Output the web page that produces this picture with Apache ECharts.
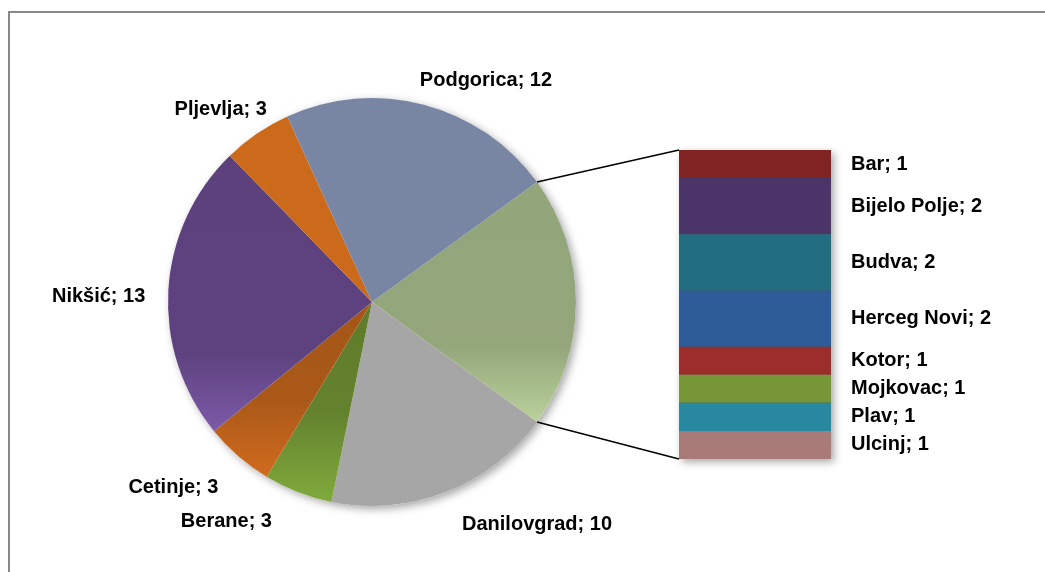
<!DOCTYPE html>
<html>
<head>
<meta charset="utf-8">
<script src="https://cdn.jsdelivr.net/npm/echarts@6/dist/echarts.min.js"></script>
<style>
  html, body { margin: 0; padding: 0; background: #fff; }
  #chart { width: 1045px; height: 572px; }
</style>
</head>
<body>
<div id="chart"></div>
<script>
// Municipalities shown as pie slices (clockwise after the grouped slice)
const pieNames = ['Danilovgrad', 'Berane', 'Cetinje', 'Nikšić', 'Pljevlja', 'Podgorica'];
const pieValues = [10, 3, 3, 13, 3, 12];

// Municipalities grouped into the stacked bar (top to bottom)
const barNames = ['Bar', 'Bijelo Polje', 'Budva', 'Herceg Novi', 'Kotor', 'Mojkovac', 'Plav', 'Ulcinj'];
const barValues = [1, 2, 2, 2, 1, 1, 1, 1];

const otherName = 'Ostali';
const otherTotal = barValues.reduce((s, v) => s + v, 0);
const grandTotal = otherTotal + pieValues.reduce((s, v) => s + v, 0);

// Layout and styling
const FONT = '"Liberation Sans", Arial, sans-serif';
const PIE_CENTER = [372, 302];
const PIE_R = 204;
const START_ANGLE = 36;
const GRID = { left: 679, top: 150, width: 152, height: 309 };

function vgrad(stops) {
  return new echarts.graphic.LinearGradient(0, 0, 0, 1,
    stops.map(([o, c]) => ({ offset: o, color: c })));
}

const sliceStyle = {
  [otherName]: vgrad([[0, '#93a57a'], [0.68, '#94a67a'], [1, '#b9d19c']]),
  'Danilovgrad': '#a6a6a6',
  'Berane': vgrad([[0, '#5f7b2b'], [0.55, '#64822e'], [1, '#80aa3c']]),
  'Cetinje': vgrad([[0, '#a55616'], [0.55, '#a95818'], [1, '#d06b1f']]),
  'Nikšić': vgrad([[0, '#5d417d'], [0.72, '#5e427f'], [1, '#7c5aa8']]),
  'Pljevlja': '#cb6a1a',
  'Podgorica': '#7886a4'
};

// Shift of each pie label away from its slice edge
const labelShift = {
  'Danilovgrad': [8, 16],
  'Berane': [-13, 14.5],
  'Cetinje': [-10, 15.5],
  'Nikšić': [-11.5, 3],
  'Pljevlja': [5, -12],
  'Podgorica': [-2, -12]
};

const barColors = ['#7f2422', '#4b3467', '#226e80', '#2d5c99', '#9b2e2c', '#779637', '#2888a0', '#a87a78'];

const pieData = [{ name: otherName, value: otherTotal, label: { show: false } }]
  .concat(pieNames.map((n, i) => ({ name: n, value: pieValues[i] })))
  .map(d => Object.assign(d, { itemStyle: { color: sliceStyle[d.name] } }));

const labelFont = { fontFamily: FONT, fontWeight: 'bold', fontSize: 20, color: '#000' };

const series = [
  // soft drop shadow under the whole pie
  {
    type: 'pie', z: 1, silent: true, animation: false,
    center: PIE_CENTER, radius: PIE_R,
    label: { show: false }, labelLine: { show: false },
    data: [{ value: grandTotal }],
    itemStyle: { color: '#fff', shadowBlur: 8, shadowOffsetX: 3, shadowOffsetY: 3, shadowColor: 'rgba(0,0,0,0.35)' }
  },
  {
    type: 'pie', z: 2, animation: false,
    center: PIE_CENTER, radius: PIE_R,
    startAngle: START_ANGLE, clockwise: true,
    avoidLabelOverlap: false,
    emphasis: { disabled: true },
    label: Object.assign({ show: true, position: 'outside', formatter: '{b}; {c}', distanceToLabelLine: 0 }, labelFont),
    labelLine: { show: false, length: 0, length2: 0 },
    labelLayout: function (p) {
      const name = pieData[p.dataIndex].name;
      const s = labelShift[name] || [0, 0];
      return { dx: s[0], dy: s[1] };
    },
    data: pieData
  },
  // drop shadow behind the stacked bar
  {
    type: 'bar', z: 1, silent: true, animation: false,
    barWidth: '100%', barGap: '-100%',
    data: [otherTotal],
    itemStyle: { color: '#555', shadowBlur: 8, shadowOffsetX: 3, shadowOffsetY: 3, shadowColor: 'rgba(0,0,0,0.35)' }
  }
].concat(barNames.map((n, i) => ({
  type: 'bar', name: n, stack: 'group', z: 2, animation: false,
  barWidth: '100%', barGap: '-100%',
  emphasis: { disabled: true },
  data: [barValues[i]],
  itemStyle: { color: barColors[i] },
  label: Object.assign({ show: true, position: 'right', distance: 20, formatter: n + '; {c}' }, labelFont)
})));

const chart = echarts.init(document.getElementById('chart'), null, { renderer: 'canvas' });
chart.setOption({
  backgroundColor: '#fff',
  animation: false,
  grid: GRID,
  xAxis: { type: 'category', data: [''], show: false, boundaryGap: true },
  yAxis: { type: 'value', min: 0, max: otherTotal, inverse: true, show: false },
  series: series
});

// Connector lines from the grouped slice's edges to the bar's outer corners
const rad = Math.PI / 180;
const a0 = START_ANGLE * rad;
const a1 = (START_ANGLE - otherTotal / grandTotal * 360) * rad;
const edge = a => [PIE_CENTER[0] + PIE_R * Math.cos(a), PIE_CENTER[1] - PIE_R * Math.sin(a)];
const pTop = edge(a0), pBot = edge(a1);
const barTop = chart.convertToPixel({ yAxisIndex: 0 }, 0);
const barBot = chart.convertToPixel({ yAxisIndex: 0 }, otherTotal);
const barLeft = GRID.left;

chart.setOption({
  graphic: [
    { type: 'line', z: 5, shape: { x1: pTop[0], y1: pTop[1], x2: barLeft, y2: barTop }, style: { stroke: '#000', lineWidth: 1.5 } },
    { type: 'line', z: 5, shape: { x1: pBot[0], y1: pBot[1], x2: barLeft, y2: barBot }, style: { stroke: '#000', lineWidth: 1.5 } },
    { type: 'rect', z: 0, shape: { x: 9, y: 12, width: 1100, height: 700 }, style: { fill: 'none', stroke: '#878787', lineWidth: 2 } }
  ]
});
</script>
</body>
</html>
